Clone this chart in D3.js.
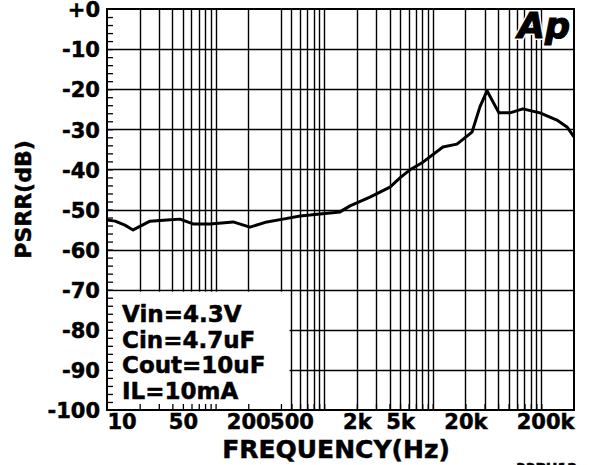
<!DOCTYPE html>
<html>
<head>
<meta charset="utf-8">
<script src="https://cdn.jsdelivr.net/npm/d3@7"></script>
<style>
  body { margin: 0; background: #fff; }
  svg { display: block; }
  text { font-family: "DejaVu Sans", sans-serif; font-weight: bold; fill: #000; stroke: #000; stroke-width: 0.5px; }
</style>
</head>
<body>
<svg id="chart" width="589" height="465"></svg>
<script>
// PSRR curve (Hz, dB)
var freqs = [10, 11.9, 14.6, 17.4, 18.9, 24.9, 35.7, 47, 62, 89, 145, 207, 297, 418, 600,
             740, 1400, 1730, 2640, 4040, 4990, 6170, 8130, 12400, 16700, 23000, 27200,
             31600, 40700, 51400, 67700, 97100, 139300, 172200, 200000];
var psrr = [-52.6, -52.9, -53.9, -55.1, -54.6, -52.9, -52.6, -52.4, -53.6, -53.6, -53.1, -54.4,
            -53.1, -52.4, -51.6, -51.4, -50.6, -49.1, -46.9, -44.4, -42.1, -40.1, -38.2, -34.4,
            -33.7, -30.7, -24.4, -20.4, -25.9, -25.9, -24.9, -25.9, -27.7, -29.4, -31.9];

// grid and tick values
var gridFreqs = [20, 30, 40, 50, 60, 70, 80, 90, 100, 200, 400, 500, 600, 700, 800, 900,
                 1000, 2000, 3000, 4000, 5000, 6000, 7000, 8000, 9000, 10000, 20000, 30000,
                 40000, 50000, 60000, 70000, 80000, 90000, 100000];
var xLabelFreqs = [10, 50, 200, 500, 2000, 5000, 20000, 200000];
var xLabels = ['10', '50', '200', '500', '2k', '5k', '20k', '200k'];
var yTicks = [0, -10, -20, -30, -40, -50, -60, -70, -80, -90, -100];
var yLabels = ['+0', '-10', '-20', '-30', '-40', '-50', '-60', '-70', '-80', '-90', '-100'];
var yMinor = d3.range(-98, 0, 2);
var notes = ['Vin=4.3V', 'Cin=4.7uF', 'Cout=10uF', 'IL=10mA'];

var L = 107, R = 574, T = 9, B = 410;

var svg = d3.select('#chart');

var x = d3.scaleLog().domain([10, 200000]).range([L, R]);
var y = d3.scaleLinear().domain([-100, 0]).range([B, T]);

// grid
var grid = svg.append('g').attr('stroke', '#000').attr('stroke-width', 1.4);
grid.selectAll('line.v')
	.data(gridFreqs)
	.enter()
	.append('line')
		.attr('class', 'v')
		.attr('x1', function(d) { return Math.round(x(d)) + 0.5; })
		.attr('x2', function(d) { return Math.round(x(d)) + 0.5; })
		.attr('y1', T)
		.attr('y2', B);
grid.selectAll('line.h')
	.data(yTicks.slice(1, -1))
	.enter()
	.append('line')
		.attr('class', 'h')
		.attr('x1', L)
		.attr('x2', R)
		.attr('y1', function(d) { return Math.round(y(d)) + 0.5; })
		.attr('y2', function(d) { return Math.round(y(d)) + 0.5; });

// curve
var line = d3.line()
	.x(function(d, i) { return x(freqs[i]); })
	.y(function(d) { return y(d); });

svg.append('path')
	.datum(psrr)
	.attr('d', line)
	.attr('fill', 'none')
	.attr('stroke', '#000')
	.attr('stroke-width', 3)
	.attr('stroke-linejoin', 'round');

// condition box, hides the grid below -70 dB
svg.append('rect')
	.attr('x', L + 1)
	.attr('y', y(-70) + 2)
	.attr('width', x(480) - L - 1)
	.attr('height', B - y(-70) - 2)
	.attr('fill', '#fff');

// minor ticks
svg.append('g')
	.attr('transform', 'translate(' + L + ',0)')
	.call(d3.axisRight(y).tickValues(yMinor).tickSize(6).tickFormat(''))
	.call(function(g) { g.select('.domain').remove(); })
	.selectAll('line').attr('stroke', '#000').attr('stroke-width', 1.3);

svg.append('g')
	.attr('transform', 'translate(0,' + B + ')')
	.call(d3.axisTop(x).tickValues(gridFreqs).tickSize(6).tickFormat(''))
	.call(function(g) { g.select('.domain').remove(); })
	.selectAll('line').attr('stroke', '#000').attr('stroke-width', 1.3);

// frame
svg.append('rect')
	.attr('x', L)
	.attr('y', T)
	.attr('width', R - L)
	.attr('height', B - T)
	.attr('fill', 'none')
	.attr('stroke', '#000')
	.attr('stroke-width', 2);

// axis labels
var yAxis = svg.append('g')
	.attr('transform', 'translate(' + (L - 1) + ',1)')
	.call(d3.axisLeft(y).tickValues(yTicks).tickSize(0).tickPadding(6)
		.tickFormat(function(d, i) { return yLabels[i]; }));
yAxis.select('.domain').remove();
yAxis.selectAll('text')
	.attr('font-family', 'DejaVu Sans')
	.attr('font-weight', 'bold')
	.attr('font-size', 21)
	.attr('fill', '#000');

var xAxis = svg.append('g')
	.attr('transform', 'translate(0,' + B + ')')
	.call(d3.axisBottom(x).tickValues(xLabelFreqs).tickSize(0).tickPadding(4)
		.tickFormat(function(d, i) { return xLabels[i]; }));
xAxis.select('.domain').remove();
xAxis.selectAll('text')
	.attr('font-family', 'DejaVu Sans')
	.attr('font-weight', 'bold')
	.attr('font-size', 21)
	.attr('fill', '#000')
	.attr('text-anchor', function(d, i) {
		if(i == 0) return 'start';
		if(i == xLabelFreqs.length - 1) return 'end';
		return 'middle';
	});

svg.append('text')
	.attr('transform', 'translate(31,' + ((T + B) / 2 - 10) + ') rotate(-90)')
	.attr('text-anchor', 'middle')
	.attr('font-size', 22)
	.text('PSRR(dB)');

svg.append('text')
	.attr('x', 336)
	.attr('y', 458)
	.attr('text-anchor', 'middle')
	.attr('font-size', 25)
	.text('FREQUENCY(Hz)');

// test conditions
svg.append('g').selectAll('text')
	.data(notes)
	.enter()
	.append('text')
		.attr('x', 122)
		.attr('y', function(d, i) { return 322 + i * 25.5; })
		.attr('font-size', 23)
		.text(function(d) { return d; });

// Ap logo: white halo, then the letters
svg.append('text')
	.attr('x', 570)
	.attr('y', 38)
	.attr('text-anchor', 'end')
	.attr('font-size', 35)
	.attr('font-style', 'italic')
	.style('stroke', '#fff')
	.style('stroke-width', '4px')
	.text('Ap');
svg.append('text')
	.attr('x', 570)
	.attr('y', 38)
	.attr('text-anchor', 'end')
	.attr('font-size', 35)
	.attr('font-style', 'italic')
	.style('stroke-width', '1.2px')
	.text('Ap');

svg.append('text')
	.attr('x', 577)
	.attr('y', 473)
	.attr('text-anchor', 'end')
	.attr('font-size', 14)
	.text('33PH12');
</script>
</body>
</html>
